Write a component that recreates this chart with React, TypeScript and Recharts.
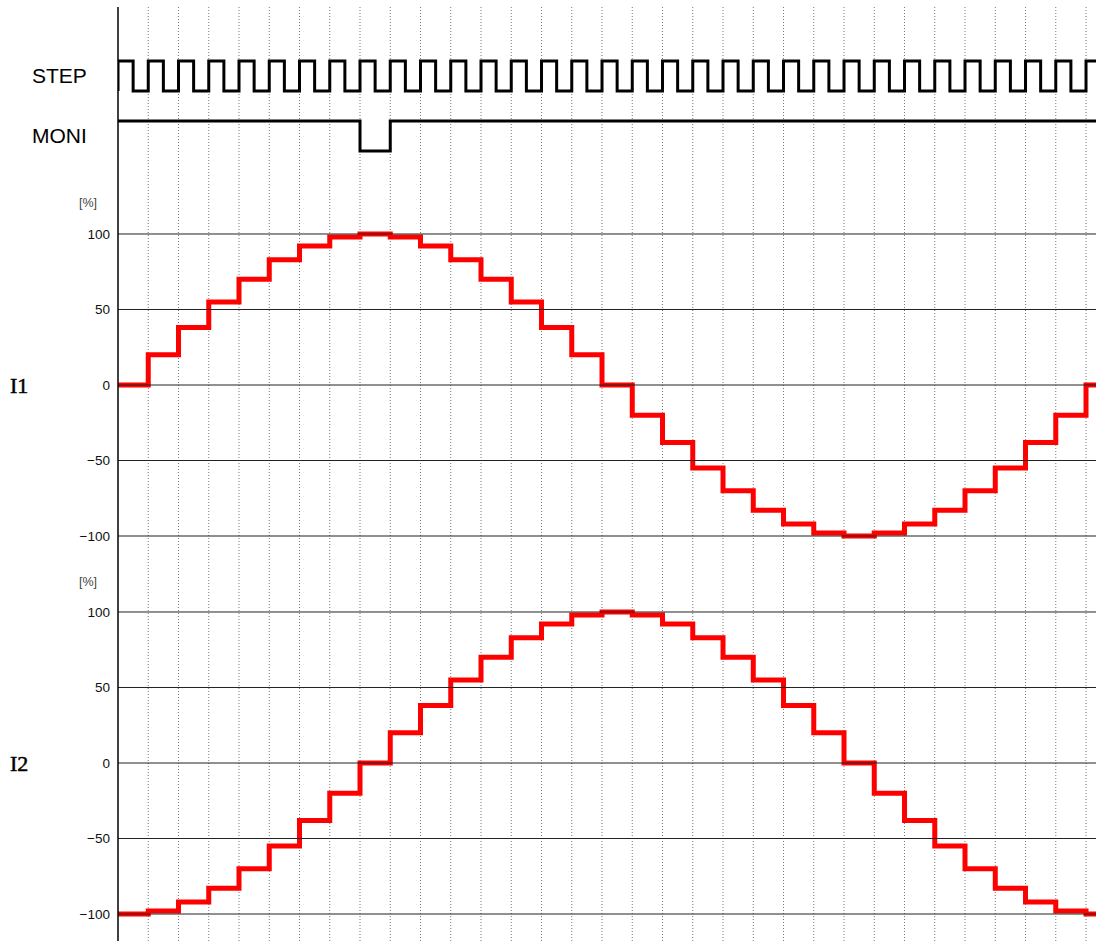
import React from 'react';
import { ComposedChart, Line, XAxis, YAxis, ReferenceLine } from 'recharts';

// step numbers 0..32 (each step = one STEP pulse period)
const STEPS = [0, 1, 2, 3, 4, 5, 6, 7, 8, 9, 10, 11, 12, 13, 14, 15, 16, 17, 18, 19, 20, 21, 22, 23, 24, 25, 26, 27, 28, 29, 30, 31, 32];
// STEP clock: 1 = a pulse starts at this step boundary
const STEP_PULSES = [1, 1, 1, 1, 1, 1, 1, 1, 1, 1, 1, 1, 1, 1, 1, 1, 1, 1, 1, 1, 1, 1, 1, 1, 1, 1, 1, 1, 1, 1, 1, 1, 1];
// MONI level per step
const MONI_LEVELS = [1, 1, 1, 1, 1, 1, 1, 1, 0, 1, 1, 1, 1, 1, 1, 1, 1, 1, 1, 1, 1, 1, 1, 1, 1, 1, 1, 1, 1, 1, 1, 1, 1];
// I1 [%] per step
const I1_VALUES = [0, 20, 38, 55, 70, 83, 92, 98, 100, 98, 92, 83, 70, 55, 38, 20, 0, -20, -38, -55, -70, -83, -92, -98, -100, -98, -92, -83, -70, -55, -38, -20, 0];
// I2 [%] per step
const I2_VALUES = [-100, -98, -92, -83, -70, -55, -38, -20, 0, 20, 38, 55, 70, 83, 92, 98, 100, 98, 92, 83, 70, 55, 38, 20, 0, -20, -38, -55, -70, -83, -92, -98, -100];
// y tick labels for the current panels
const Y_TICKS = [100, 50, 0, -50, -100];
const GRID_STEPS = [1, 2, 3, 4, 5, 6, 7, 8, 9, 10, 11, 12, 13, 14, 15, 16, 17, 18, 19, 20, 21, 22, 23, 24, 25, 26, 27, 28, 29, 30, 31, 32];

const X_DOMAIN: [number, number] = [0, 32.33];

// main table (one extra row after the last step so the final level runs to the right edge)
const table = STEPS.map((t, i) => ({ t, i1: I1_VALUES[i], i2: I2_VALUES[i], moni: MONI_LEVELS[i] }));
table.push({ t: STEPS.length, i1: I1_VALUES[I1_VALUES.length - 1], i2: I2_VALUES[I2_VALUES.length - 1], moni: MONI_LEVELS[MONI_LEVELS.length - 1] });

// clock table: high for the first half of each step
const clock: { t: number; step: number }[] = [{ t: 0, step: 0 }];
STEP_PULSES.forEach((p, i) => {
  clock.push({ t: STEPS[i], step: p });
  clock.push({ t: STEPS[i] + 0.5, step: 0 });
});
clock.push({ t: STEPS.length, step: 1 });

const fmt = (v: number) => (v < 0 ? '\u2212' + Math.abs(v) : String(v));

const GRID_COLOR = '#222';
const LABEL_STYLE = { fontSize: 13.5, fill: '#111', fontFamily: 'Liberation Sans' };

export default function App() {
  return (
    <div style={{ position: 'absolute', left: 0, top: 0, width: 1096, height: 941, background: '#fff' }}>
      <ComposedChart
        width={1096}
        height={941}
        data={table}
        margin={{ top: 7, right: 0, bottom: 0, left: 118 }}
        style={{ fontFamily: 'Liberation Sans' }}
      >
        <XAxis dataKey="t" type="number" domain={X_DOMAIN} ticks={STEPS} allowDataOverflow hide />
        <YAxis yAxisId="step" type="number" domain={[-28.333, 2.8]} allowDataOverflow hide />
        <YAxis yAxisId="moni" type="number" domain={[-26.333, 4.8]} allowDataOverflow hide />
        <YAxis yAxisId="i1" type="number" domain={[-368.21, 250.33]} allowDataOverflow hide />
        <YAxis yAxisId="i2" type="number" domain={[-117.88, 500.66]} allowDataOverflow hide />

        {GRID_STEPS.map((s) => (
          <ReferenceLine key={'g' + s} yAxisId="i1" x={s} stroke="#777" strokeWidth={1} strokeDasharray="1 2" />
        ))}

        <Line
          yAxisId="step"
          data={clock}
          dataKey="step"
          type="stepAfter"
          stroke="#000"
          strokeWidth={3}
          dot={false}
          isAnimationActive={false}
        />
        <Line
          yAxisId="moni"
          dataKey="moni"
          type="stepAfter"
          stroke="#000"
          strokeWidth={3}
          dot={false}
          isAnimationActive={false}
        />
        <Line
          yAxisId="i1"
          dataKey="i1"
          type="stepAfter"
          stroke="#ff0000"
          strokeWidth={5}
          strokeLinecap="round"
          dot={false}
          isAnimationActive={false}
        />
        <Line
          yAxisId="i2"
          dataKey="i2"
          type="stepAfter"
          stroke="#ff0000"
          strokeWidth={5}
          strokeLinecap="round"
          dot={false}
          isAnimationActive={false}
        />

        {Y_TICKS.map((v) => (
          <ReferenceLine
            key={'i1-' + v}
            yAxisId="i1"
            y={v}
            stroke={GRID_COLOR}
            strokeWidth={1}
            label={{ value: fmt(v), position: 'left', offset: 8, ...LABEL_STYLE }}
          />
        ))}
        {Y_TICKS.map((v) => (
          <ReferenceLine
            key={'i2-' + v}
            yAxisId="i2"
            y={v}
            stroke={GRID_COLOR}
            strokeWidth={1}
            label={{ value: fmt(v), position: 'left', offset: 8, ...LABEL_STYLE }}
          />
        ))}
        <ReferenceLine yAxisId="i1" x={0} stroke="#000" strokeWidth={1.5} />

        <text x={32} y={83} fontSize={21} fontFamily="Liberation Sans" fill="#000">STEP</text>
        <text x={32} y={143} fontSize={21} fontFamily="Liberation Sans" fill="#000">MONI</text>
        <text x={97} y={207} fontSize={12.5} fontFamily="Liberation Sans" fill="#444" textAnchor="end">[%]</text>
        <text x={97} y={586} fontSize={12.5} fontFamily="Liberation Sans" fill="#444" textAnchor="end">[%]</text>
        <text x={10} y={393} fontSize={22} fontFamily="Liberation Serif" fill="#000" stroke="#000" strokeWidth={0.5}>I1</text>
        <text x={10} y={771} fontSize={22} fontFamily="Liberation Serif" fill="#000" stroke="#000" strokeWidth={0.5}>I2</text>
      </ComposedChart>
    </div>
  );
}
